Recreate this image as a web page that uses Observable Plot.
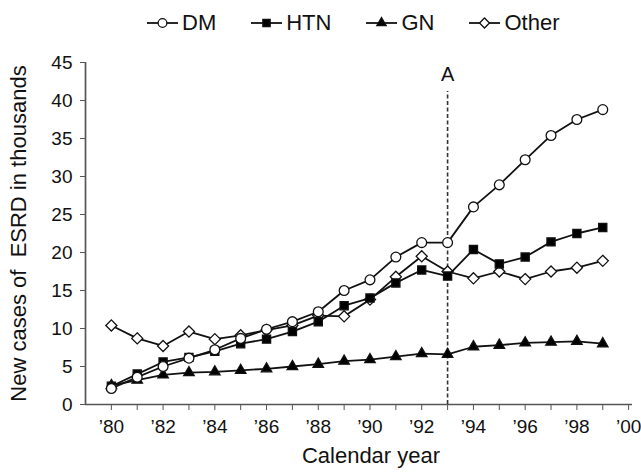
<!DOCTYPE html>
<html><head><meta charset="utf-8">
<script src="https://cdn.jsdelivr.net/npm/d3@7"></script>
<script src="https://cdn.jsdelivr.net/npm/@observablehq/plot@0.6"></script>
<style>
html,body{margin:0;padding:0;background:#fff;}
body{font-family:"Liberation Sans",Arial,sans-serif;width:641px;height:476px;overflow:hidden;position:relative;}
#legend{position:absolute;left:146px;top:9px;height:28px;display:flex;align-items:center;font-size:22px;color:#111;}
.item{display:flex;align-items:center;margin-right:34px;}
.item svg{margin-right:3px;}
#chart{position:absolute;left:0;top:40px;}
</style></head><body>
<div id="legend"></div><div id="chart"></div>
<script>
const years = [1980,1981,1982,1983,1984,1985,1986,1987,1988,1989,1990,1991,1992,1993,1994,1995,1996,1997,1998,1999];
const dm    = [2.1,3.6,5.0,6.1,7.2,8.7,9.9,10.9,12.2,15.0,16.4,19.4,21.3,21.3,26.0,28.9,32.2,35.4,37.5,38.8];
const htn   = [2.4,4.0,5.6,6.2,7.0,8.0,8.6,9.6,10.9,13.0,14.0,16.0,17.7,16.9,20.4,18.5,19.4,21.4,22.5,23.3];
const gn    = [2.5,3.2,3.9,4.2,4.3,4.5,4.7,5.0,5.3,5.7,5.9,6.3,6.7,6.6,7.6,7.8,8.1,8.2,8.3,8.0];
const other = [10.4,8.7,7.7,9.6,8.6,9.1,9.8,10.4,11.7,11.6,13.8,16.8,19.5,17.5,16.6,17.5,16.5,17.5,18.0,18.9];
const seriesNames = ["DM","HTN","GN","Other"];
const yTicks = [0,5,10,15,20,25,30,35,40,45];
const xTicks = [1980,1981,1982,1983,1984,1985,1986,1987,1988,1989,1990,1991,1992,1993,1994,1995,1996,1997,1998,1999,2000];
const annotationYear = [1993];
const annotationTop = [41.2];
const annotationLabel = ["A"];
const annotationLabelY = [43.4];
const xLabel = "Calendar year";
const yLabel = "New cases of  ESRD in thousands";

const styles = {
  DM:    {symbol:"circle",   fill:"white", r:4.9},
  HTN:   {symbol:"square",   fill:"black", r:4.6},
  GN:    {symbol:"triangle", fill:"black", r:3.9},
  Other: {symbol:"diamond2", fill:"white", r:5.0}
};
const valuesByName = {DM:dm, HTN:htn, GN:gn, Other:other};
const rows = n => years.map((y,i)=>({year:y, value:valuesByName[n][i]}));

// Legend
const leg = d3.select("#legend");
for (const n of seriesNames) {
  const it = leg.append("div").attr("class","item");
  const s = it.append("svg").attr("width",33).attr("height",16);
  s.append("line").attr("x1",1).attr("x2",32).attr("y1",8).attr("y2",8).attr("stroke","#111").attr("stroke-width",1.8);
  const st = styles[n];
  const sym = {circle:d3.symbolCircle, square:d3.symbolSquare, triangle:d3.symbolTriangle, diamond2:d3.symbolDiamond2}[st.symbol];
  s.append("path").attr("d", d3.symbol(sym, Math.PI*st.r*st.r*0.8)()).attr("transform","translate(16.5,8)")
    .attr("fill", st.fill).attr("stroke","#111").attr("stroke-width",1.3);
  it.append("span").text(n);
}

const marks = [
  Plot.ruleY([0], {x1:1979, x2:2000.15, stroke:"#555", strokeWidth:1.7}),
  Plot.ruleX([1979], {y1:0, y2:45, stroke:"#555", strokeWidth:1.7}),
  Plot.axisY({ticks:yTicks, tickSize:5, tickPadding:8, fontSize:19, label:null, stroke:"#555"}),
  Plot.axisX({ticks:xTicks, tickSize:6, tickPadding:9, fontSize:19, label:null, stroke:"#555",
    tickFormat: d => d % 2 === 0 ? "\u2019" + String(d).slice(2) : ""}),
  Plot.ruleX(annotationYear, {x:d=>d, y1:0, y2:annotationTop[0], stroke:"#333", strokeWidth:1.6, strokeDasharray:"4,2.5"}),
  Plot.text(annotationLabel, {x:annotationYear[0], y:annotationLabelY[0], text:d=>d, fontSize:20, fill:"#111"}),
  Plot.text([yLabel], {frameAnchor:"left", textAnchor:"middle", text:d=>d, rotate:-90, dx:-67, fontSize:22, fill:"#111"}),
  Plot.text([xLabel], {frameAnchor:"bottom", textAnchor:"middle", text:d=>d, dy:58, dx:12, fontSize:22, fill:"#111"})
];
for (const n of ["Other","GN","HTN","DM"]) {
  const st = styles[n];
  marks.push(Plot.line(rows(n), {x:"year", y:"value", stroke:"#111", strokeWidth:1.8}));
  marks.push(Plot.dot(rows(n), {x:"year", y:"value", symbol:()=>st.symbol, r:st.r, fill:st.fill, stroke:"#111", strokeWidth:1.3}));
}

const chart = Plot.plot({
  width:641, height:436,
  marginLeft:85, marginRight:9, marginTop:22, marginBottom:72,
  style:{fontFamily:"'Liberation Sans', Arial, sans-serif", color:"#111", background:"white", overflow:"visible"},
  x:{domain:[1979,2000.15]},
  y:{domain:[0,45]},
  symbol:{type:"identity"},
  marks
});
document.getElementById("chart").appendChild(chart);
</script>
</body></html>
